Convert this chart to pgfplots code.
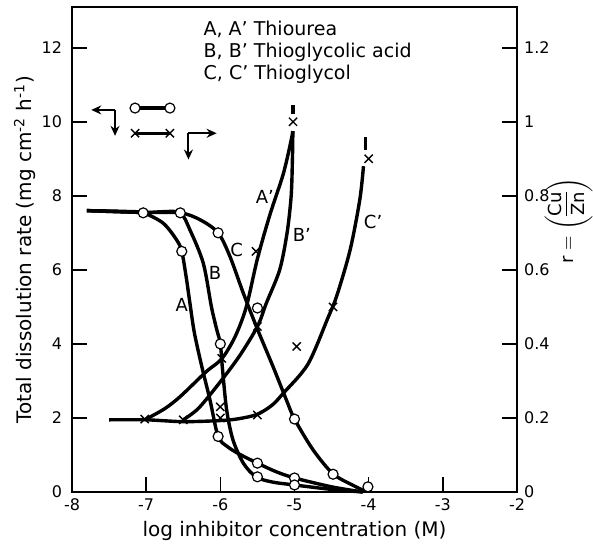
\documentclass[border=0pt]{standalone}
\usepackage{pgfplots}
\pgfplotsset{compat=1.18}
\usepackage{fontspec}
\setmainfont{DejaVu Sans}
\usetikzlibrary{arrows.meta}
\begin{document}
\begin{tikzpicture}
\pgfplotsset{
  curve/.style={black, line width=1.7pt, smooth, tension=0.5, no marks},
  circ/.style={only marks, mark=*, mark size=2.5pt, mark options={fill=white, draw=black, line width=0.6pt}},
  crs/.style={only marks, mark=x, mark size=2.9pt, mark options={black, line width=0.7pt}},
}
\begin{axis}[
  scale only axis, width=222.5pt, height=242.5pt,
  xmin=-8, xmax=-2, ymin=0, ymax=13.1,
  xtick={-8,-7,-6,-5,-4,-3,-2}, xticklabels={-8,-7,-6,-5,-4,-3,-2},
  ytick={0,2,4,6,8,10,12}, yticklabels={0,2,4,6,8,10,12},
  xtick pos=bottom, ytick pos=left, tick align=inside,
  major tick length=7.5pt,
  axis line style={line width=1.1pt}, tick style={line width=0.8pt, black},
  tick label style={font=\fontsize{8}{9}\selectfont},
  yticklabel style={xshift=-1.5pt},
  xlabel={log inhibitor concentration (M)},
  ylabel={Total dissolution rate (mg cm\textsuperscript{-2} h\textsuperscript{-1})},
  label style={font=\fontsize{10}{12}\selectfont},
  xlabel style={at={(axis description cs:0.5,-0.08)}, anchor=center},
  ylabel style={at={(axis description cs:-0.106,0.5)}, anchor=center},
  clip=false,
]
\coordinate (BL) at (rel axis cs:0,0);
\coordinate (TR) at (rel axis cs:1,1);
% A
\addplot[curve] coordinates {(-7.8,7.6) (-7.3,7.58) (-7.04,7.54) (-6.77,7.26) (-6.59,6.81) (-6.52,6.5) (-6.46,5.8) (-6.41,5.1) (-6.35,4.3) (-6.25,3.39) (-6.14,2.49) (-6.03,1.5) (-5.9,1.22) (-5.74,1.02) (-5.5,0.78) (-5.25,0.55) (-5.0,0.38) (-4.5,0.14) (-4.08,0.0)};
% B
\addplot[curve] coordinates {(-7.8,7.6) (-7.04,7.55) (-6.8,7.57) (-6.54,7.54) (-6.41,7.08) (-6.23,6.18) (-6.12,5.0) (-6.05,4.4) (-6.0,4.0) (-5.97,3.3) (-5.915,2.22) (-5.83,1.41) (-5.69,0.78) (-5.52,0.41) (-5.3,0.27) (-5.0,0.19) (-4.5,0.07) (-4.08,0.0)};
% C
\addplot[curve] coordinates {(-7.8,7.6) (-7.04,7.55) (-6.54,7.54) (-6.27,7.35) (-6.03,7.0) (-5.87,6.36) (-5.69,5.37) (-5.5,4.4) (-5.29,3.39) (-5.11,2.49) (-5.0,1.97) (-4.75,1.14) (-4.48,0.49) (-4.2,0.17) (-4.05,0.02)};
\addplot[circ] coordinates {(-7.04,7.54) (-6.54,7.54) (-6.52,6.5) (-6.03,7.0) (-6.0,4.0) (-6.03,1.5) (-5.5,4.97) (-5.5,0.78) (-5.5,0.41) (-5.0,1.97) (-5.0,0.38) (-5.0,0.19) (-4.48,0.48) (-4.01,0.14)};
% key symbols
\addplot[black, line width=1.7pt, mark=*, mark size=2.5pt, mark options={fill=white, line width=0.6pt}] coordinates {(-7.15,10.37) (-6.68,10.37)};
\draw[line width=1pt, -{Stealth[length=5pt,width=4.5pt]}] (axis cs:-7.42,10.32) -- (axis cs:-7.74,10.32);
\draw[line width=1pt, -{Stealth[length=5pt,width=4.5pt]}] (axis cs:-7.42,10.32) -- (axis cs:-7.42,9.62);
\draw[line width=1pt, -{Stealth[length=5pt,width=4.5pt]}] (axis cs:-6.43,9.69) -- (axis cs:-6.05,9.69);
\draw[line width=1pt, -{Stealth[length=5pt,width=4.5pt]}] (axis cs:-6.43,9.69) -- (axis cs:-6.43,8.98);
% text
\node[anchor=north west, inner sep=0pt, align=left, font=\fontsize{9.5}{11}\selectfont] at (axis cs:-6.23,12.72) {A, A’ Thiourea\\B, B’ Thioglycolic acid\\C, C’ Thioglycol};
\begin{scope}[font=\fontsize{9}{10}\selectfont]
\node at (axis cs:-6.52,5.05) {A};
\node at (axis cs:-6.07,5.91) {B};
\node at (axis cs:-5.78,6.54) {C};
\node at (axis cs:-5.4,7.98) {A’};
\node at (axis cs:-4.9,6.95) {B’};
\node at (axis cs:-3.94,7.3) {C’};
\end{scope}
\end{axis}
\begin{axis}[
  scale only axis, width=222.5pt, height=242.5pt,
  xmin=-8, xmax=-2, ymin=0, ymax=1.31,
  axis x line=none, axis y line*=right,
  ytick={0,0.2,0.4,0.6,0.8,1,1.2}, yticklabels={0,0.2,0.4,0.6,0.8,1,1.2},
  tick align=inside, major tick length=7.5pt,
  axis line style={line width=1.1pt}, tick style={line width=0.8pt, black},
  tick label style={font=\fontsize{8}{9}\selectfont},
  ylabel={r $=\left(\vcenter{\hbox{\begin{tabular}{@{}c@{}}Cu\\[-1pt]\hline\rule{0pt}{9pt}Zn\end{tabular}}}\right)$},
  label style={font=\fontsize{9}{11}\selectfont},
  ylabel style={at={(axis description cs:1.116,0.56)}, anchor=center},
  clip=false,
]
% A'
\addplot[curve] coordinates {(-7.0,0.197) (-6.75,0.225) (-6.54,0.258) (-6.19,0.325) (-5.98,0.36) (-5.8,0.42) (-5.65,0.5) (-5.5,0.63) (-5.33,0.75) (-5.15,0.86) (-5.04,0.955) (-5.025,0.975)};
% B'
\addplot[curve] coordinates {(-6.5,0.195) (-6.3,0.225) (-6.05,0.285) (-5.75,0.365) (-5.5,0.447) (-5.38,0.51) (-5.2,0.6) (-5.1,0.7) (-5.045,0.8) (-5.028,0.9) (-5.022,0.975)};
% C'
\addplot[curve] coordinates {(-7.5,0.195) (-7.0,0.195) (-6.5,0.19) (-6.0,0.193) (-5.75,0.198) (-5.5,0.21) (-5.3,0.235) (-5.15,0.267) (-4.82,0.345) (-4.55,0.47) (-4.43,0.53) (-4.25,0.654) (-4.12,0.789) (-4.07,0.88)};
% stubs
\addplot[black, line width=1.7pt] coordinates {(-5.02,1.02) (-5.02,1.046)};
\addplot[black, line width=1.7pt] coordinates {(-4.04,0.925) (-4.04,0.96)};
\addplot[crs] coordinates {(-7.02,0.197) (-6.5,0.195) (-5.98,0.361) (-6.0,0.23) (-6.0,0.2) (-5.5,0.447) (-5.5,0.208) (-4.97,0.393) (-5.52,0.65) (-5.02,1.0) (-4.0,0.9) (-4.48,0.5)};
\addplot[black, line width=1.7pt, mark=x, mark size=2.9pt, mark options={line width=0.7pt}] coordinates {(-7.15,0.969) (-6.68,0.969)};
\end{axis}
\pgfresetboundingbox
\path[use as bounding box] ([shift={(-36pt,-26pt)}]BL) rectangle ([shift={(38pt,3.5pt)}]TR);
\end{tikzpicture}
\end{document}
